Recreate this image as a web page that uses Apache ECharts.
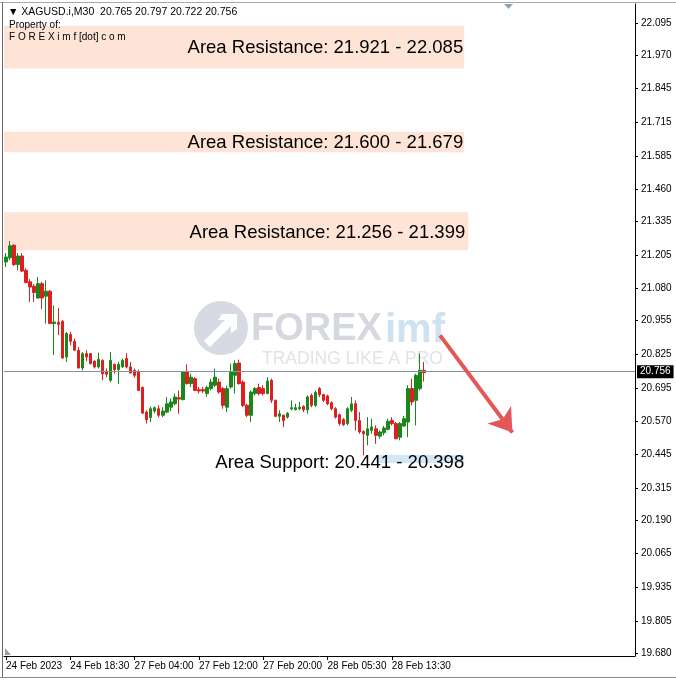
<!DOCTYPE html>
<html><head><meta charset="utf-8">
<script src="https://cdn.jsdelivr.net/npm/echarts@6/dist/echarts.min.js"></script>
<style>html,body{margin:0;padding:0;background:#fff}#c{width:676px;height:680px}</style>
</head><body><div id="c"></div>
<script>
// ---------- data ----------
const timeLabels = ['24 Feb 2023', '24 Feb 18:30', '27 Feb 04:00', '27 Feb 12:00', '27 Feb 20:00', '28 Feb 05:30', '28 Feb 13:30'];
const barsPerLabel = 16;
const slotCount = 157;

const opens = [21.180,21.196,21.244,21.170,21.203,21.148,21.104,21.087,21.042,21.097,21.049,21.068,20.944,20.949,20.953,20.816,20.902,20.876,20.842,20.774,
20.829,20.829,20.800,20.778,20.803,20.762,20.727,20.788,20.768,20.778,20.810,20.778,20.765,20.759,20.699,20.605,20.584,20.609,20.618,20.593,
20.605,20.624,20.637,20.660,20.653,20.759,20.714,20.733,20.691,20.691,20.676,20.695,20.708,20.720,20.695,20.624,20.701,20.746,20.793,20.720,
20.631,20.593,20.676,20.699,20.695,20.676,20.727,20.650,20.589,20.593,20.586,20.617,20.614,20.618,20.627,20.614,20.669,20.631,20.695,20.672,
20.667,20.641,20.618,20.595,20.577,20.561,20.612,20.637,20.573,20.531,20.516,20.535,20.541,20.513,20.526,20.539,20.573,20.561,20.509,20.552,
20.567,20.695,20.650,20.695,20.765];
const closes = [21.199,21.242,21.170,21.203,21.145,21.101,21.084,21.063,21.097,21.042,21.068,20.944,20.950,20.941,20.812,20.906,20.876,20.842,20.774,20.829,
20.816,20.791,20.778,20.807,20.752,20.750,20.803,20.768,20.788,20.803,20.778,20.755,20.746,20.688,20.601,20.576,20.618,20.622,20.593,20.609,
20.637,20.644,20.663,20.655,20.759,20.714,20.739,20.688,20.686,20.686,20.699,20.720,20.739,20.682,20.631,20.695,20.759,20.791,20.714,20.631,
20.593,20.682,20.695,20.676,20.676,20.724,20.650,20.589,20.599,20.573,20.601,20.622,20.622,20.624,20.614,20.663,20.631,20.680,20.672,20.650,
20.637,20.618,20.586,20.561,20.557,20.618,20.637,20.573,20.529,20.522,20.541,20.548,20.516,20.529,20.544,20.570,20.561,20.503,20.561,20.580,
20.695,20.644,20.746,20.765,20.756];
const lows = [21.160,21.187,21.165,21.148,21.142,21.099,21.027,21.027,21.040,21.000,20.944,20.944,20.823,20.900,20.810,20.797,20.861,20.842,20.772,20.765,
20.800,20.787,20.772,20.772,20.727,20.739,20.720,20.752,20.714,20.775,20.772,20.752,20.737,20.686,20.599,20.561,20.567,20.601,20.584,20.586,
20.601,20.609,20.631,20.599,20.650,20.711,20.701,20.686,20.676,20.678,20.664,20.688,20.701,20.676,20.618,20.605,20.695,20.676,20.711,20.624,
20.586,20.567,20.669,20.669,20.669,20.673,20.640,20.586,20.567,20.548,20.580,20.612,20.612,20.612,20.605,20.599,20.624,20.624,20.663,20.644,
20.631,20.612,20.580,20.554,20.552,20.554,20.605,20.535,20.522,20.439,20.478,20.522,20.484,20.503,20.516,20.535,20.554,20.501,20.497,20.548,
20.509,20.631,20.554,20.688,20.722];
const highs = [21.214,21.260,21.248,21.214,21.214,21.156,21.114,21.095,21.123,21.104,21.110,21.072,21.014,21.004,20.957,20.912,20.912,20.887,20.854,20.835,
20.842,20.830,20.803,20.833,20.807,20.772,20.835,20.791,20.797,20.810,20.831,20.797,20.772,20.768,20.704,20.612,20.627,20.627,20.631,20.624,
20.663,20.657,20.676,20.688,20.762,20.788,20.752,20.739,20.701,20.701,20.706,20.733,20.772,20.733,20.701,20.706,20.791,20.803,20.806,20.727,
20.637,20.688,20.701,20.714,20.708,20.739,20.733,20.653,20.612,20.596,20.605,20.650,20.637,20.644,20.631,20.669,20.676,20.688,20.701,20.676,
20.672,20.646,20.624,20.599,20.582,20.624,20.663,20.650,20.605,20.535,20.586,20.580,20.554,20.535,20.552,20.580,20.586,20.567,20.567,20.590,
20.708,20.733,20.752,20.830,20.797];

const priceTicks = [22.095,21.970,21.845,21.715,21.585,21.460,21.335,21.205,21.080,20.955,20.825,20.695,20.570,20.445,20.315,20.190,20.065,19.935,19.805,19.680];
const yMin = 19.671, yMax = 22.168;
const currentPrice = 20.756;

const resistanceLow  = [21.921, 21.600, 21.225];
const resistanceHigh = [22.085, 21.679, 21.370];
const resistanceEnd  = [114, 114, 115];
const resistanceText = ['Area Resistance: 21.921 - 22.085', 'Area Resistance: 21.600 - 21.679', 'Area Resistance: 21.256 - 21.399'];
const supportLow = 20.410, supportHigh = 20.441;
const supportStart = 92, supportEnd = 114;
const supportText = 'Area Support: 20.441 - 20.398';

const arrowFrom = [108, 20.899];
const arrowTo = [126, 20.527];

const headerLines = ['\u25BC XAGUSD.i,M30  20.765 20.797 20.722 20.756', 'Property of:', 'F O R E X i m f [dot] c o m'];

// ---------- build ----------
const FONT = '"Liberation Sans", Arial, sans-serif';
const isLabelSlot = i => i % barsPerLabel === 0 && i / barsPerLabel < timeLabels.length;
const categories = [];
for (let i = 0; i < slotCount; i++) categories.push(isLabelSlot(i) ? timeLabels[i / barsPerLabel] : 's' + i);
const candles = opens.map((o, i) => [o, closes[i], lows[i], highs[i]]);

const areaLabel = (txt, off) => ({
  show: true, position: 'insideRight', distance: 1, offset: off || [0, 0],
  formatter: txt, color: '#000', fontSize: 18.5, fontFamily: FONT
});
const labelOffsets = [[0, 1], [0, 1], [-2, 2]];
const markAreaData = resistanceLow.map((lo, k) => [
  { yAxis: resistanceHigh[k], itemStyle: { color: '#fde4d6' }, label: areaLabel(resistanceText[k], labelOffsets[k]) },
  { xAxis: resistanceEnd[k], yAxis: lo }
]);
markAreaData.push([
  { xAxis: supportStart, yAxis: supportHigh, itemStyle: { color: '#d3e7f6' }, label: areaLabel(supportText, [1, 4]) },
  { xAxis: supportEnd, yAxis: supportLow }
]);

const chart = echarts.init(document.getElementById('c'), null, { renderer: 'canvas' });
chart.setOption({
  animation: false,
  backgroundColor: '#fff',
  grid: { left: 4, right: 41, top: 4, bottom: 24 },
  xAxis: {
    type: 'category', data: categories, boundaryGap: true,
    axisLine: { show: true, lineStyle: { color: '#000', width: 1 } },
    axisTick: { show: true, alignWithLabel: true, interval: (i) => isLabelSlot(i), length: 4, lineStyle: { color: '#000' } },
    axisLabel: { interval: (i) => isLabelSlot(i), align: 'left', color: '#000', fontSize: 10, fontFamily: FONT, margin: 5, padding: [0, 0, 0, 0] },
    splitLine: { show: false }
  },
  yAxis: {
    type: 'value', position: 'right', min: yMin, max: yMax,
    axisLine: { show: true, lineStyle: { color: '#000', width: 1 } },
    axisTick: { show: true, customValues: priceTicks, length: 3, lineStyle: { color: '#000' } },
    axisLabel: { customValues: priceTicks, formatter: v => v.toFixed(3), color: '#000', fontSize: 10, fontFamily: FONT, margin: 6 },
    splitLine: { show: false }
  },
  series: [
    {
      type: 'candlestick', data: candles, barWidth: 3, z: 3,
      itemStyle: { color: '#1b871b', color0: '#dc1f1f', borderColor: '#1b871b', borderColor0: '#dc1f1f', borderWidth: 1 },
      markArea: { silent: true, data: markAreaData },
      markLine: {
        silent: true, symbol: ['none', 'none'],
        data: [{
          yAxis: currentPrice,
          lineStyle: { color: '#8593a0', width: 1, type: 'solid' },
          label: { show: true, position: 'end', distance: 2, formatter: currentPrice.toFixed(3), backgroundColor: '#000', color: '#fff', padding: [2, 3, 1, 3], fontSize: 10, fontFamily: FONT }
        }]
      }
    },
    {
      type: 'line', data: [], z: 4,
      markLine: {
        silent: true, symbol: ['none', 'arrow'], symbolSize: [22, 22],
        lineStyle: { color: '#e25858', width: 4, type: 'solid' },
        itemStyle: { color: '#e25858' },
        label: { show: false },
        data: [[{ coord: arrowFrom }, { coord: arrowTo }]]
      }
    }
  ],
  graphic: [
    // watermark
    { type: 'circle', z: -10, shape: { cx: 221, cy: 328, r: 27 }, style: { fill: '#d7dae2' } },
    { type: 'polygon', z: -9, shape: { points: [[204, 341], [225, 320], [218, 320], [222, 314], [237, 314], [237, 329], [231, 333], [231, 326], [210, 347]] }, style: { fill: '#fff' } },
    { type: 'text', z: -10, left: 251, top: 311, style: { text: 'FOREX', fill: '#d5d8df', font: 'bold 38px ' + FONT } },
    { type: 'text', z: -10, left: 385, top: 311, style: { text: 'imf', fill: '#cfe2f1', font: 'bold 40px ' + FONT } },
    { type: 'text', z: -10, left: 262, top: 350, style: { text: 'TRADING LIKE A PRO', fill: '#e1e3e7', font: '17.5px ' + FONT } },
    // header
    { type: 'text', z: 50, left: 8, top: 7, style: { text: headerLines[0], fill: '#000', font: '10.5px ' + FONT } },
    { type: 'text', z: 50, left: 9, top: 20, style: { text: headerLines[1], fill: '#000', font: '10px ' + FONT } },
    { type: 'text', z: 50, left: 9, top: 32, style: { text: headerLines[2], fill: '#000', font: '10px ' + FONT } },
    // small markers and window frame
    { type: 'polygon', z: 50, shape: { points: [[504, 4], [513, 4], [508.5, 9]] }, style: { fill: '#8ea4b8' } },
    { type: 'polygon', z: 50, shape: { points: [[5, 648], [5, 655], [11, 655]] }, style: { fill: '#9aa0a6' } },
    { type: 'rect', z: 50, shape: { x: 0, y: 2, width: 676, height: 1 }, style: { fill: '#a9a9a9' } },
    { type: 'rect', z: 50, shape: { x: 2, y: 2, width: 1, height: 676 }, style: { fill: '#6b6b6b' } },
    { type: 'rect', z: 50, shape: { x: 0, y: 677, width: 676, height: 1 }, style: { fill: '#8a8a8a' } }
  ]
});
</script>
</body></html>
